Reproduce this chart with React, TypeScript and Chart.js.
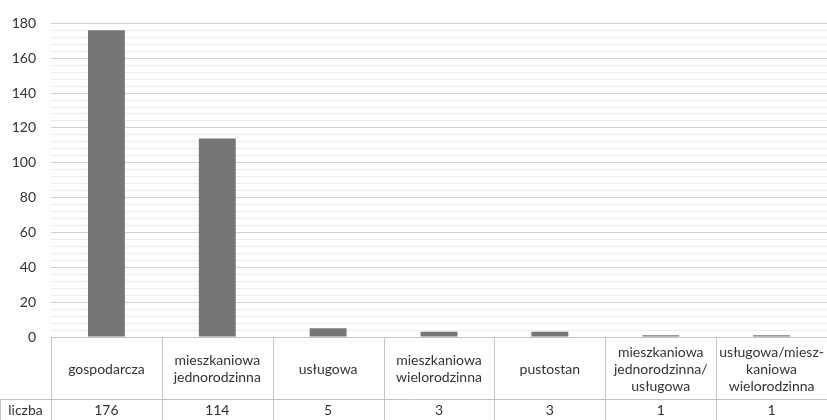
import React, { useEffect, useRef } from "react";
import { Chart, registerables } from "chart.js";

Chart.register(...registerables);

const categories: string[][] = [
  ["gospodarcza"],
  ["mieszkaniowa", "jednorodzinna"],
  ["usługowa"],
  ["mieszkaniowa", "wielorodzinna"],
  ["pustostan"],
  ["mieszkaniowa", "jednorodzinna/", "usługowa"],
  ["usługowa/miesz-", "kaniowa", "wielorodzinna"],
];
const seriesName = "liczba";
const values: number[] = [176, 114, 5, 3, 3, 1, 1];
const yMin = 0;
const yMax = 180;
const minorStep = 4;
const majorStep = 20;

const FONT = "Lato, 'Open Sans', sans-serif";
const TEXT = "#333333";
const TABLE_LINE = "#c4c4c4";

const tablePlugin = {
  id: "dataTable",
  afterDraw(chart: any) {
    const { ctx, chartArea, scales } = chart;
    const x = scales.x;
    const top = chartArea.bottom;
    const left = chartArea.left;
    const right = chartArea.right;
    const H = chart.height;
    const rowSplit = top + 62;
    const n = categories.length;
    const colW = (right - left) / n;
    ctx.save();
    ctx.strokeStyle = TABLE_LINE;
    ctx.lineWidth = 1;
    ctx.beginPath();
    ctx.moveTo(left, top + 0.5);
    ctx.lineTo(right, top + 0.5);
    ctx.moveTo(0, Math.round(rowSplit) + 0.5);
    ctx.lineTo(right, Math.round(rowSplit) + 0.5);
    for (let i = 0; i <= n; i++) {
      const xx = Math.round(left + i * colW) + 0.5;
      ctx.moveTo(xx, top);
      ctx.lineTo(xx, H);
    }
    ctx.moveTo(0.5, rowSplit);
    ctx.lineTo(0.5, H);
    ctx.stroke();

    ctx.fillStyle = TEXT;
    ctx.font = `14px ${FONT}`;
    ctx.textAlign = "center";
    ctx.textBaseline = "middle";
    const lh = 17;
    categories.forEach((lines, i) => {
      const cx = x.getPixelForValue(i);
      const cy = (top + rowSplit) / 2 + 1;
      const start = cy - ((lines.length - 1) * lh) / 2;
      lines.forEach((ln, j) => ctx.fillText(ln, cx, start + j * lh));
      ctx.fillText(String(values[i]), cx, (rowSplit + H) / 2 + 0.5);
    });
    ctx.fillText(seriesName, left / 2, (rowSplit + H) / 2 + 0.5);
    ctx.restore();
  },
};

export default function App() {
  const ref = useRef<HTMLCanvasElement>(null);
  useEffect(() => {
    document.body.style.margin = "0";
    const chart = new Chart(ref.current!, {
      type: "bar",
      data: {
        labels: categories.map((c) => c.join(" ")),
        datasets: [
          {
            label: seriesName,
            data: values,
            backgroundColor: "#767676",
            borderWidth: 0,
            barPercentage: 0.333,
            categoryPercentage: 1,
          },
        ],
      },
      options: {
        responsive: false,
        animation: false,
        devicePixelRatio: 1,
        layout: { padding: { top: 17, bottom: 83, left: 0, right: 0 } },
        plugins: { legend: { display: false }, tooltip: { enabled: false } },
        scales: {
          x: { display: false },
          y: {
            min: yMin,
            max: yMax,
            border: { display: false },
            grid: {
              drawTicks: false,
              color: (c: any) =>
                c.tick && c.tick.value % majorStep === 0 ? "#d0d0d0" : "#ececec",
              lineWidth: 1,
            },
            ticks: {
              stepSize: minorStep,
              autoSkip: false,
              padding: 15,
              color: TEXT,
              font: { family: FONT, size: 14 },
              callback: (v: any) => (Number(v) % majorStep === 0 ? String(v) : ""),
            },
            afterFit: (s: any) => {
              s.width = 51;
            },
          },
        },
      },
      plugins: [tablePlugin],
    });
    return () => chart.destroy();
  }, []);
  return (
    <div style={{ position: "fixed", left: 0, top: 0, width: 827, height: 420, background: "#fff" }}>
      <canvas ref={ref} width={827} height={420} />
    </div>
  );
}
